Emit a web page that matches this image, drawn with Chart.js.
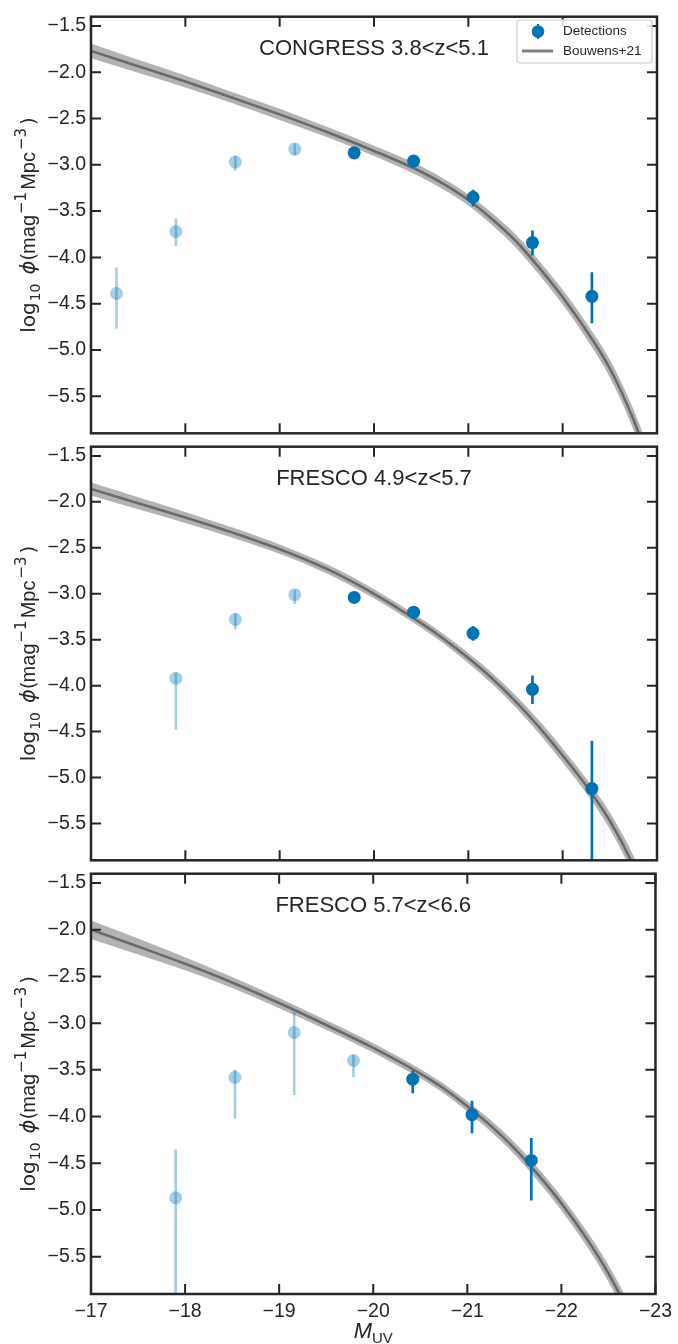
<!DOCTYPE html>
<html>
<head>
<meta charset="utf-8">
<script src="https://cdn.jsdelivr.net/npm/chart.js@4.4.1/dist/chart.umd.min.js"></script>
<style>
  html, body { margin: 0; padding: 0; background: #fff; }
  #fig { position: relative; width: 678px; height: 1344px; }
  canvas { position: absolute; left: 0; }
</style>
</head>
<body>
<div id="fig">
  <canvas id="panel1"></canvas>
  <canvas id="panel2"></canvas>
  <canvas id="panel3"></canvas>
</div>
<script>
// ------------------------------ Datos ------------------------------

const xTicks = [-17, -18, -19, -20, -21, -22, -23];
const yTicks = [-5.5, -5.0, -4.5, -4.0, -3.5, -3.0, -2.5, -2.0, -1.5];

// CONGRESS 3.8<z<5.1
const mBins1 = [-17.27, -17.9, -18.53, -19.16, -19.79, -20.42, -21.05, -21.68, -22.31];
const phi1   = [-4.39, -3.72, -2.97, -2.83, -2.87, -2.96, -3.35, -3.84, -4.42];
const hi1    = [-4.11, -3.58, -2.90, -2.77, -2.82, -2.91, -3.27, -3.71, -4.16];
const lo1    = [-4.77, -3.88, -3.06, -2.90, -2.94, -3.01, -3.45, -3.98, -4.71];

// FRESCO 4.9<z<5.7
const mBins2 = [-17.9, -18.53, -19.16, -19.79, -20.42, -21.05, -21.68, -22.31];
const phi2   = [-3.92, -3.28, -3.01, -3.04, -3.20, -3.43, -4.04, -5.12];
const hi2    = [-3.86, -3.21, -2.96, -2.99, -3.14, -3.35, -3.89, -4.60];
const lo2    = [-4.48, -3.39, -3.11, -3.10, -3.27, -3.51, -4.20, -6.50];

// FRESCO 5.7<z<6.6
const mBins3 = [-17.9, -18.53, -19.16, -19.79, -20.42, -21.05, -21.68];
const phi3   = [-4.87, -3.58, -3.10, -3.40, -3.60, -3.98, -4.47];
const hi3    = [-4.35, -3.50, -2.88, -3.34, -3.51, -3.83, -4.23];
const lo3    = [-6.50, -4.02, -3.77, -3.58, -3.75, -4.18, -4.90];

// Bouwens+21
const mCurve   = [-17, -17.5, -18, -18.5, -19, -19.5, -20, -20.5, -20.75, -21, -21.25, -21.5, -21.75, -22, -22.25, -22.5, -22.75, -23];
const bouwens1 = [-1.77, -1.935, -2.10, -2.275, -2.455, -2.645, -2.85, -3.075, -3.215, -3.38, -3.585, -3.82, -4.11, -4.43, -4.79, -5.20, -5.75, -6.45];
const bouwens2 = [-1.86, -2.015, -2.17, -2.335, -2.515, -2.73, -3.00, -3.32, -3.50, -3.70, -3.92, -4.17, -4.45, -4.76, -5.09, -5.47, -5.96, -6.60];
const bouwens3 = [-2.00, -2.18, -2.365, -2.565, -2.785, -3.02, -3.265, -3.54, -3.70, -3.89, -4.10, -4.34, -4.62, -4.93, -5.28, -5.68, -6.18, -6.80];
const banda1   = [0.08, 0.07, 0.065, 0.06, 0.06, 0.055, 0.055, 0.06, 0.06, 0.06, 0.065, 0.07, 0.075, 0.08, 0.085, 0.095, 0.11, 0.13];
const banda2   = [0.07, 0.065, 0.06, 0.055, 0.05, 0.05, 0.05, 0.05, 0.05, 0.055, 0.06, 0.065, 0.07, 0.075, 0.08, 0.09, 0.11, 0.13];
const banda3   = [0.10, 0.085, 0.07, 0.06, 0.055, 0.05, 0.05, 0.05, 0.05, 0.055, 0.06, 0.065, 0.07, 0.075, 0.08, 0.09, 0.11, 0.13];

// ------------------------------ Estilos ------------------------------

const FUENTE = "'Liberation Sans', Arial, sans-serif";
const MATE = "'DejaVu Sans', sans-serif";
const tinta = "#262626";
const azul = "#0173B2";
const azulClaro = "rgba(1, 115, 178, 0.35)";
const grisBanda = "rgba(128, 128, 128, 0.6)";
const grisLinea = "#6a6a6a";

Chart.defaults.font.family = FUENTE;
Chart.defaults.color = tinta;

const paneles = [
    { id: "panel1", titulo: "CONGRESS 3.8<z<5.1", m: mBins1, phi: phi1, hi: hi1, lo: lo1, nClaros: 4,
      curva: bouwens1, banda: banda1, top: 0, alto: 450, padTop: 13, padBottom: 10, ejeX: false, leyenda: true },
    { id: "panel2", titulo: "FRESCO 4.9<z<5.7", m: mBins2, phi: phi2, hi: hi2, lo: lo2, nClaros: 3,
      curva: bouwens2, banda: banda2, top: 430, alto: 447, padTop: 10, padBottom: 10, ejeX: false, leyenda: false },
    { id: "panel3", titulo: "FRESCO 5.7<z<6.6", m: mBins3, phi: phi3, hi: hi3, lo: lo3, nClaros: 4,
      curva: bouwens3, banda: banda3, top: 857, alto: 487, padTop: 10, padBottom: 0, ejeX: true, leyenda: false }
];

function formato(v, dec) {
    return (v < 0 ? "\u2212" : "") + Math.abs(v).toFixed(dec);
}

// Texto con subíndices / superíndices
function textoRico(ctx, partes, x, y) {
    let total = 0;
    partes.forEach(p => {
        ctx.font = p.font;
        p.w = ctx.measureText(p.t).width + (p.gap || 0);
        total += p.w;
    });
    let cx = x - total / 2;
    partes.forEach(p => {
        ctx.font = p.font;
        ctx.fillText(p.t, cx, y + (p.dy || 0));
        cx += p.w;
    });
}

// ------------------------------ Gráficos ------------------------------

function crearPanel(p) {
    const canvas = document.getElementById(p.id);
    canvas.width = 678;
    canvas.height = p.alto;
    canvas.style.top = p.top + "px";

    const puntos = p.m.map((m, k) => ({ x: m, y: p.phi[k] }));
    const linea = mCurve.map((m, k) => ({ x: m, y: p.curva[k] }));
    const arriba = mCurve.map((m, k) => ({ x: m, y: p.curva[k] + p.banda[k] }));
    const abajo = mCurve.map((m, k) => ({ x: m, y: p.curva[k] - p.banda[k] }));

    // barras de error, antes de los puntos claros
    const barrasError = {
        id: "barrasError",
        beforeDatasetDraw(chart, args) {
            if (args.index !== 1) return;
            const { ctx, chartArea: a, scales: { x, y } } = chart;
            ctx.save();
            ctx.beginPath();
            ctx.rect(a.left, a.top, a.right - a.left, a.bottom - a.top);
            ctx.clip();
            ctx.lineWidth = 2.7;
            p.m.forEach((m, k) => {
                const px = x.getPixelForValue(m);
                ctx.strokeStyle = k < p.nClaros ? azulClaro : azul;
                ctx.beginPath();
                ctx.moveTo(px, y.getPixelForValue(p.hi[k]));
                ctx.lineTo(px, y.getPixelForValue(p.lo[k]));
                ctx.stroke();
            });
            ctx.restore();
        }
    };

    // marco, ticks hacia adentro, títulos y leyenda
    const marco = {
        id: "marco",
        afterDraw(chart) {
            const { ctx, chartArea: a, scales: { x, y } } = chart;
            ctx.save();
            ctx.strokeStyle = tinta;
            ctx.lineWidth = 2;
            ctx.beginPath();
            xTicks.forEach(v => {
                const px = x.getPixelForValue(v);
                ctx.moveTo(px, a.bottom); ctx.lineTo(px, a.bottom - 10);
                ctx.moveTo(px, a.top); ctx.lineTo(px, a.top + 10);
            });
            yTicks.forEach(v => {
                const py = y.getPixelForValue(v);
                ctx.moveTo(a.left, py); ctx.lineTo(a.left + 10, py);
                ctx.moveTo(a.right, py); ctx.lineTo(a.right - 10, py);
            });
            ctx.stroke();
            ctx.lineWidth = 2.5;
            ctx.strokeRect(a.left, a.top, a.right - a.left, a.bottom - a.top);

            // título del panel
            ctx.fillStyle = tinta;
            ctx.textAlign = "center";
            ctx.textBaseline = "alphabetic";
            ctx.font = "22px " + FUENTE;
            ctx.fillText(p.titulo, (a.left + a.right) / 2, a.top + 38);

            // etiqueta del eje y
            ctx.save();
            ctx.translate(35, (a.top + a.bottom) / 2);
            ctx.rotate(-Math.PI / 2);
            ctx.textAlign = "left";
            textoRico(ctx, [
                { t: "log", font: "20px " + MATE, gap: 1 },
                { t: "10", font: "14px " + MATE, dy: 5, gap: 9 },
                { t: "ϕ", font: "italic 21px " + MATE },
                { t: "(", font: "20px " + MATE, gap: -1 },
                { t: "mag", font: "20px " + FUENTE, gap: 1 },
                { t: "\u22121", font: "15px " + MATE, dy: -9, gap: 2 },
                { t: "Mpc", font: "20px " + FUENTE, gap: 2 },
                { t: "\u22123", font: "15px " + MATE, dy: -9, gap: 3 },
                { t: ")", font: "20px " + MATE }
            ], 0, 0);
            ctx.restore();

            // etiqueta del eje x
            if (p.ejeX) {
                ctx.textAlign = "left";
                textoRico(ctx, [
                    { t: "M", font: "italic 22px " + FUENTE },
                    { t: "UV", font: "15px " + FUENTE, dy: 5 }
                ], (a.left + a.right) / 2, a.bottom + 44);
            }

            // leyenda
            if (p.leyenda) {
                const bx = 517, by = 20, bw = 135, bh = 43, r = 3;
                ctx.fillStyle = "rgba(255,255,255,0.85)";
                ctx.strokeStyle = "#cccccc";
                ctx.lineWidth = 1.2;
                ctx.beginPath();
                ctx.moveTo(bx + r, by);
                ctx.arcTo(bx + bw, by, bx + bw, by + bh, r);
                ctx.arcTo(bx + bw, by + bh, bx, by + bh, r);
                ctx.arcTo(bx, by + bh, bx, by, r);
                ctx.arcTo(bx, by, bx + bw, by, r);
                ctx.closePath();
                ctx.fill();
                ctx.stroke();

                const ds = chart.data.datasets;
                ctx.fillStyle = azul;
                ctx.beginPath();
                ctx.arc(538, 31.5, 6.3, 0, Math.PI * 2);
                ctx.fill();
                ctx.strokeStyle = azul;
                ctx.lineWidth = 2;
                ctx.beginPath();
                ctx.moveTo(538, 24); ctx.lineTo(538, 39);
                ctx.stroke();
                ctx.strokeStyle = "rgb(128,128,128)";
                ctx.lineWidth = 3;
                ctx.beginPath();
                ctx.moveTo(522, 51); ctx.lineTo(553, 51);
                ctx.stroke();

                ctx.fillStyle = tinta;
                ctx.font = "13.5px " + FUENTE;
                ctx.textAlign = "left";
                ctx.textBaseline = "middle";
                ctx.fillText(ds[0].label, 563, 31.5);
                ctx.fillText(ds[2].label, 563, 51);
            }
            ctx.restore();
        }
    };

    return new Chart(canvas, {
        type: "line",
        data: {
            datasets: [
                { label: "Detections", data: puntos.slice(p.nClaros), showLine: false,
                  pointRadius: 6.5, pointBackgroundColor: azul, pointBorderWidth: 0 },
                { label: "Detections (faint)", data: puntos.slice(0, p.nClaros), showLine: false,
                  pointRadius: 6.5, pointBackgroundColor: azulClaro, pointBorderWidth: 0 },
                { label: "Bouwens+21", data: linea, borderColor: grisLinea, borderWidth: 2.6,
                  pointRadius: 0, fill: false, cubicInterpolationMode: "monotone" },
                { label: "banda sup", data: arriba, borderWidth: 0, pointRadius: 0,
                  fill: "+1", backgroundColor: grisBanda, cubicInterpolationMode: "monotone" },
                { label: "banda inf", data: abajo, borderWidth: 0, pointRadius: 0,
                  fill: false, cubicInterpolationMode: "monotone" }
            ]
        },
        options: {
            responsive: false,
            animation: false,
            devicePixelRatio: 1,
            events: [],
            layout: { padding: { top: p.padTop, bottom: p.padBottom, left: 0, right: 21 } },
            plugins: {
                legend: { display: false },
                tooltip: { enabled: false }
            },
            scales: {
                x: {
                    type: "linear",
                    reverse: true,
                    min: -23,
                    max: -17,
                    display: p.ejeX,
                    grid: { display: false, drawTicks: false },
                    border: { display: false },
                    afterBuildTicks: s => { s.ticks = xTicks.map(v => ({ value: v })); },
                    afterFit: s => { s.height = p.ejeX ? 50 : 0; },
                    ticks: {
                        callback: v => formato(v, 0),
                        font: { size: 19.5 },
                        color: tinta,
                        padding: 6,
                        maxRotation: 0,
                        autoSkip: false
                    }
                },
                y: {
                    type: "linear",
                    min: -5.9,
                    max: -1.4,
                    grid: { display: false, drawTicks: false },
                    border: { display: false },
                    afterBuildTicks: s => { s.ticks = yTicks.map(v => ({ value: v })); },
                    afterFit: s => { s.width = 91; },
                    ticks: {
                        callback: v => formato(v, 1),
                        font: { size: 19.5 },
                        color: tinta,
                        padding: 5
                    }
                }
            }
        },
        plugins: [barrasError, marco]
    });
}

paneles.forEach(crearPanel);
</script>
</body>
</html>
